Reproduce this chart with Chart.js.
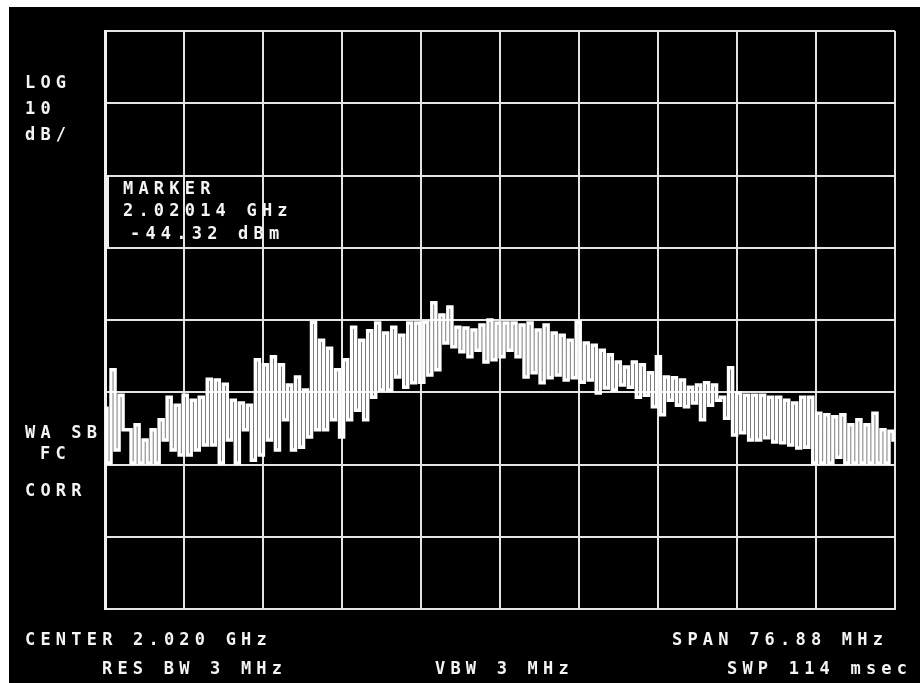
<!DOCTYPE html>
<html>
<head>
<meta charset="utf-8">
<script src="https://cdn.jsdelivr.net/npm/chart.js@4.4.1/dist/chart.umd.min.js"></script>
<style>
  html, body { margin: 0; padding: 0; background: #fff; }
  body { width: 920px; height: 683px; position: relative; overflow: hidden; }
  #screen { position: absolute; left: 9px; top: 7px; width: 911px; height: 676px; background: #000; }
  .lbl {
    position: absolute; color: #f4f4f4; white-space: pre;
    font: bold 17px "DejaVu Sans Mono", monospace; line-height: 1; letter-spacing: 5.2px;
  }
  #markbox { position: absolute; left: 107px; top: 175px; width: 0; height: 72px; border-left: 2px solid #eee; }
</style>
</head>
<body>
<div id="screen"><canvas id="spec"></canvas></div>
<div id="markbox"></div>
<div class="lbl" style="left:25px;top:74px">LOG</div>
<div class="lbl" style="left:25px;top:100px">10</div>
<div class="lbl" style="left:25px;top:126px">dB/</div>
<div class="lbl" style="left:123px;top:180px">MARKER</div>
<div class="lbl" style="left:123px;top:202px">2.02014 GHz</div>
<div class="lbl" style="left:130px;top:225px">-44.32 dBm</div>
<div class="lbl" style="left:25px;top:424px">WA SB</div>
<div class="lbl" style="left:40px;top:445px">FC</div>
<div class="lbl" style="left:25px;top:482px">CORR</div>
<div class="lbl" style="left:25px;top:631px">CENTER 2.020 GHz</div>
<div class="lbl" style="left:102px;top:660px">RES BW 3 MHz</div>
<div class="lbl" style="left:435px;top:660px">VBW 3 MHz</div>
<div class="lbl" style="left:672px;top:631px">SPAN 76.88 MHz</div>
<div class="lbl" style="left:727px;top:660px">SWP 114 msec</div>
<script>
// sweep settings
const centerMHz = 2020;
const spanMHz = 76.88;
const refLevel = 0;     // top graticule line, dBm
const dbPerDiv = 10;
const xDivs = 10;
const yDivs = 8;

// trace, dBm, left to right
const traceDbm = [
  -52.2, -59.8, -46.9, -58.0, -50.4, -55.2, -55.2, -59.8, -54.5, -59.8,
  -56.6, -59.8, -55.2, -59.8, -53.8, -56.6, -50.7, -58.0, -51.8, -58.7,
  -50.4, -58.7, -51.1, -58.0, -50.7, -57.3, -48.2, -57.3, -48.3, -59.8,
  -48.9, -56.6, -51.1, -59.8, -51.5, -55.2, -51.8, -59.4, -45.5, -58.7,
  -46.2, -56.6, -45.1, -58.0, -46.2, -53.8, -49.0, -58.0, -47.9, -57.6,
  -49.7, -56.2, -40.3, -55.2, -42.8, -55.2, -43.9, -53.8, -46.9, -56.2,
  -45.5, -53.8, -41.0, -52.5, -42.8, -53.8, -41.5, -50.7, -40.4, -49.7,
  -41.8, -49.7, -41.0, -47.9, -42.1, -49.3, -40.4, -48.7, -40.4, -48.6,
  -40.3, -47.6, -37.6, -46.9, -39.3, -43.2, -38.2, -43.7, -41.0, -44.4,
  -41.1, -45.1, -41.4, -44.2, -40.7, -45.8, -40.0, -45.5, -40.4, -45.1,
  -40.4, -44.2, -40.4, -45.1, -40.7, -47.9, -40.4, -47.3, -41.4, -48.7,
  -40.7, -48.0, -41.8, -47.6, -42.1, -48.3, -42.8, -48.0, -40.3, -48.6,
  -43.2, -48.3, -43.5, -50.1, -44.2, -49.4, -44.8, -49.7, -45.8, -49.0,
  -46.5, -49.3, -45.8, -50.7, -46.2, -50.4, -47.3, -52.0, -45.1, -53.1,
  -47.9, -51.1, -48.0, -51.8, -48.3, -52.0, -49.3, -51.5, -49.0, -53.8,
  -48.7, -51.8, -49.0, -51.1, -50.7, -53.6, -46.6, -55.9, -50.1, -55.6,
  -50.4, -56.6, -50.4, -56.6, -50.4, -56.3, -50.7, -56.9, -50.7, -57.0,
  -51.1, -57.3, -51.5, -57.7, -50.7, -57.6, -50.7, -59.8, -52.9, -59.8,
  -53.1, -59.8, -53.4, -59.0, -53.1, -59.8, -54.5, -59.8, -53.8, -59.8,
  -54.5, -59.8, -52.9, -59.8, -55.2, -59.8, -55.4, -56.6
];

const startMHz = centerMHz - spanMHz / 2;
const stopMHz = centerMHz + spanMHz / 2;
const points = traceDbm.map((v, i) => ({
  x: startMHz + i * spanMHz / (traceDbm.length - 1),
  y: v
}));

const gridColor = "#e4e4e4";

new Chart(document.getElementById("spec"), {
  type: "line",
  data: {
    datasets: [{
      data: points,
      borderColor: "#ffffff",
      borderWidth: 3.5,
      pointRadius: 0,
      stepped: "middle",
    }],
  },
  options: {
    responsive: true,
    maintainAspectRatio: false,
    animation: false,
    layout: { padding: { left: 96, top: 24, right: 25, bottom: 74 } },
    scales: {
      x: {
        type: "linear",
        min: startMHz,
        max: stopMHz,
        afterBuildTicks: s => {
          s.ticks = [];
          for (let i = 0; i <= xDivs; i++) s.ticks.push({ value: startMHz + i * spanMHz / xDivs });
        },
        afterFit: s => { s.height = 0; },
        ticks: { display: false },
        grid: { color: gridColor, lineWidth: 2, drawTicks: false },
        border: { color: gridColor, width: 2 },
      },
      y: {
        min: refLevel - dbPerDiv * yDivs,
        max: refLevel,
        ticks: { display: false, stepSize: dbPerDiv },
        afterFit: s => { s.width = 0; },
        grid: { color: gridColor, lineWidth: 2, drawTicks: false },
        border: { color: "#f0f0f0", width: 3 },
      },
    },
    plugins: {
      legend: { display: false },
      tooltip: { enabled: false },
    },
  },
});
</script>
</body>
</html>
